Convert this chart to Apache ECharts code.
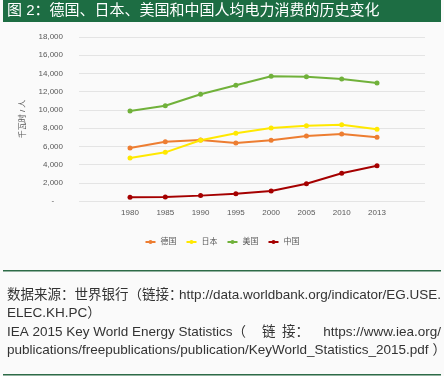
<!DOCTYPE html>
<html>
<head>
<meta charset="utf-8">
<script src="https://cdn.jsdelivr.net/npm/echarts@6/dist/echarts.min.js"></script>
<style>
  html, body { margin: 0; padding: 0; background: #fafafa; }
  #main { width: 444px; height: 376px; }
</style>
</head>
<body>
<div id="main"></div>
<script>
const years = ['1980', '1985', '1990', '1995', '2000', '2005', '2010', '2013'];
const germany = [5820, 6510, 6700, 6370, 6660, 7140, 7350, 6990];
const japan = [4720, 5340, 6660, 7430, 8010, 8270, 8380, 7870];
const usa = [9880, 10460, 11710, 12700, 13690, 13650, 13390, 12950];
const china = [400, 440, 590, 800, 1100, 1900, 3040, 3880];

const titleText = '图 2：德国、日本、美国和中国人均电力消费的历史变化';
// source note, split so the justified lines can be pinned to both edges
const sourceParts = [
  { line: 0, text: '数据来源：世界银行（链接：', x: 7 },
  { line: 0, text: 'http://data.worldbank.org/indicator/EG.USE.', x: 441, align: 'right' },
  { line: 1, text: 'ELEC.KH.PC）', x: 7 },
  { line: 2, text: 'IEA 2015 Key World Energy Statistics（', x: 7 },
  { line: 2, text: '链', x: 262 },
  { line: 2, text: '接：', x: 282 },
  { line: 2, text: 'https://www.iea.org/', x: 441, align: 'right', spacing: 0.8 },
  { line: 3, text: 'publications/freepublications/publication/KeyWorld_Statistics_2015.pdf', x: 7 },
  { line: 3, text: '）', x: 446, align: 'right' }
];

const chartDom = document.getElementById('main');
const myChart = echarts.init(chartDom);

const font = 'Liberation Sans, "Noto Sans CJK SC", sans-serif';
const gridTop = 37;
const gridBottom = 175;

function mkSeries(name, data, color) {
  return {
    name: name,
    type: 'line',
    xAxisIndex: 1,
    yAxisIndex: 1,
    data: data,
    symbol: 'circle',
    symbolSize: 5,
    lineStyle: { width: 2, color: color },
    itemStyle: { color: color }
  };
}

const option = {
  backgroundColor: '#fafafa',
  textStyle: { fontFamily: font },
  animation: false,
  grid: [
    { left: 79, right: 19, top: gridTop, bottom: gridBottom },
    { left: 130, right: 67, top: gridTop, bottom: gridBottom }
  ],
  xAxis: [
    { type: 'category', gridIndex: 0, data: years, show: false },
    {
      type: 'category',
      gridIndex: 1,
      data: years,
      boundaryGap: false,
      axisLine: { show: false },
      axisTick: { show: false },
      axisLabel: { color: '#595959', fontSize: 8, margin: 8 }
    }
  ],
  yAxis: [
    {
      type: 'value',
      gridIndex: 0,
      min: 0,
      max: 18000,
      interval: 2000,
      name: '千瓦时 / 人',
      nameLocation: 'middle',
      nameGap: 52,
      nameRotate: 90,
      nameTextStyle: { color: '#595959', fontSize: 8 },
      axisLine: { show: false },
      axisTick: { show: false },
      splitLine: { lineStyle: { color: '#e4e4e4', width: 1 } },
      axisLabel: {
        color: '#595959',
        fontSize: 8,
        margin: 16,
        formatter: function (v) {
          return v === 0 ? '-    ' : v.toLocaleString('en-US');
        }
      }
    },
    {
      type: 'value',
      gridIndex: 1,
      min: 0,
      max: 18000,
      interval: 2000,
      show: false
    }
  ],
  legend: {
    top: 233,
    left: 'center',
    itemWidth: 10,
    itemHeight: 5,
    itemGap: 9,
    textStyle: { color: '#595959', fontSize: 8 },
    data: ['德国', '日本', '美国', '中国']
  },
  series: [
    mkSeries('德国', germany, '#ED7D31'),
    mkSeries('日本', japan, '#FFE800'),
    mkSeries('美国', usa, '#70B13A'),
    mkSeries('中国', china, '#A50000')
  ],
  graphic: [
    { type: 'rect', shape: { x: 3, y: 0, width: 438, height: 22 }, style: { fill: '#1d6d43' } },
    {
      type: 'text', left: 7, top: 3,
      style: { text: titleText, fill: '#ffffff', fontSize: 15, fontFamily: font }
    },
    { type: 'rect', shape: { x: 3, y: 270, width: 438, height: 1.5 }, style: { fill: '#2d6b47' } },
    { type: 'rect', shape: { x: 3, y: 374, width: 438, height: 1.5 }, style: { fill: '#2d6b47' } }
  ].concat(sourceParts.map(function (p) {
    return {
      type: 'text', x: p.x, y: 295 + p.line * 18.5,
      style: {
        text: p.text, fill: '#333333', fontSize: 13.5, fontFamily: font,
        align: p.align || 'left', verticalAlign: 'middle'
      }
    };
  }))
};

myChart.setOption(option);
</script>
</body>
</html>
